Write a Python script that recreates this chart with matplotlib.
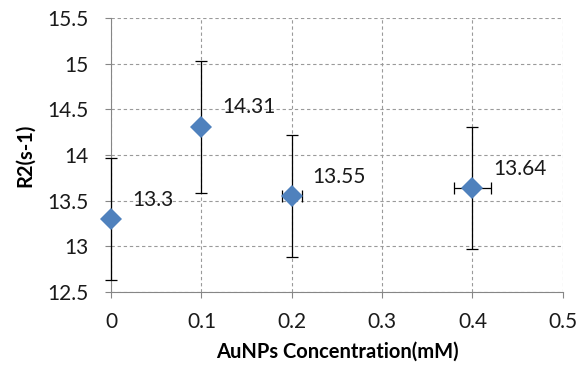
import numpy as np
import matplotlib.pyplot as plt

# AuNPs concentration (mM) vs R2 relaxation rate
conc = [0, 0.1, 0.2, 0.4]
r2 = [13.3, 14.31, 13.55, 13.64]
r2_err = [0.67, 0.72, 0.67, 0.67]
conc_err = [0, 0, 0.011, 0.02]
labels = ['13.3', '14.31', '13.55', '13.64']

plt.rcParams['font.family'] = ['Lato', 'DejaVu Sans']

fig = plt.figure(figsize=(5.79, 3.67), dpi=100)
ax = fig.add_axes([0.192, 0.204, 0.780, 0.747])

ax.errorbar(conc, r2, yerr=r2_err, xerr=conc_err, fmt='none', clip_on=False,
            ecolor='black', elinewidth=0.9, capsize=4, capthick=0.9, zorder=3)
ax.plot(conc, r2, 'D', color='#4F81BD', markersize=11, markeredgewidth=0,
        zorder=4, clip_on=False)

for x, y, t in zip(conc, r2, labels):
    ax.annotate(t, (x, y), xytext=(15, 14), textcoords='offset points',
                ha='left', va='center', fontsize=15, color='#1a1a1a')

ax.set_xlim(0, 0.5)
ax.set_ylim(12.5, 15.5)
ax.set_xticks(np.arange(0, 0.51, 0.1))
ax.set_xticklabels(['0', '0.1', '0.2', '0.3', '0.4', '0.5'])
ax.set_yticks(np.arange(12.5, 15.51, 0.5))
ax.set_yticklabels(['12.5', '13', '13.5', '14', '14.5', '15', '15.5'])

ax.grid(True, linestyle=(0, (3, 2.5)), color='#9a9a9a', linewidth=0.8)
ax.set_axisbelow(True)
for s in ['top', 'right']:
    ax.spines[s].set_visible(False)
for s in ['left', 'bottom']:
    ax.spines[s].set_color('#868686')
ax.tick_params(colors='#868686', labelcolor='#1a1a1a', labelsize=15, length=4, width=0.8)
ax.tick_params(axis='y', pad=12)
ax.tick_params(axis='x', pad=10)

ax.set_xlabel('AuNPs Concentration(mM)', fontsize=14.5, fontweight='bold', labelpad=7)
ax.set_ylabel('R2(s-1)', fontsize=14.5, fontweight='bold', labelpad=9)

fig.savefig('out.png', dpi=100)
